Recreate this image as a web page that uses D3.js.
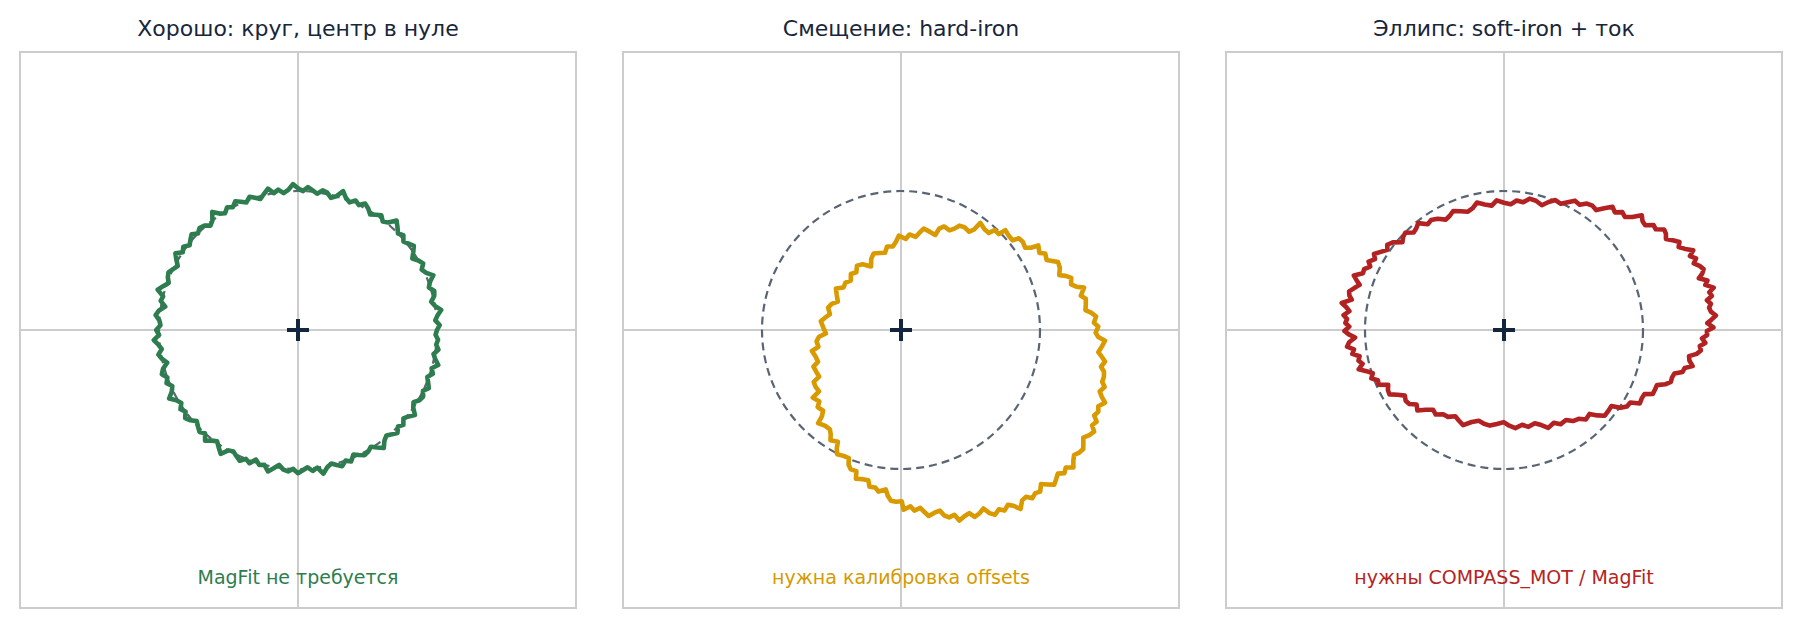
<!DOCTYPE html>
<html>

<head>
  <meta charset="UTF-8">
  <title>Калибровка компаса</title>
  <script src="https://d3js.org/d3.v7.min.js"></script>
  <style>
    body {
      margin: 0;
      background: #fff;
      font-family: "DejaVu Sans", sans-serif;
    }

    .frame {
      fill: none;
      stroke: #cccccc;
      stroke-width: 2px;
    }

    .zero {
      stroke: #cccccc;
      stroke-width: 2px;
    }

    .ref {
      fill: none;
      stroke: #596575;
      stroke-width: 2.2px;
      stroke-dasharray: 8 5;
    }

    .trace {
      fill: none;
      stroke-width: 4.6px;
      stroke-linejoin: round;
      stroke-linecap: round;
    }

    .origin {
      stroke: #14263d;
      stroke-width: 4px;
    }
  </style>
</head>

<body>
  <svg id="chart" width="1802" height="628"></svg>

  <script>
    // panel titles and notes
    const titles = ["Хорошо: круг, центр в нуле", "Смещение: hard-iron", "Эллипс: soft-iron + ток"];
    const notes = ["MagFit не требуется", "нужна калибровка offsets", "нужны COMPASS_MOT / MagFit"];
    const colors = ["#2e7d4f", "#d99a00", "#b22222"];
    const noteColors = ["#2e7d4f", "#d69a00", "#b5241f"];

    // fitted shape of each trace: centre, semi-axes, rotation (deg)
    const centers = [[0, 0], [0.42, -0.30], [0.18, 0.12]];
    const semiAxes = [[1.0, 1.0], [1.03, 1.03], [1.31, 0.80]];
    const rotations = [0, 0, 3];

    // normalised radius of each sample, read round the trace every 2 degrees
    const goodR = [
      1.00, 1.02, 0.99, 1.01, 1.04, 1.00, 0.98, 1.01, 1.02, 0.99,
      1.01, 1.05, 1.01, 0.99, 1.02, 1.00, 0.97, 1.00, 1.03, 1.01,
      0.99, 1.02, 1.00, 1.03, 1.06, 1.01, 0.99, 1.02, 1.00, 0.98,
      1.01, 1.03, 1.00, 1.02, 0.99, 1.01, 1.05, 1.00, 0.98, 1.01,
      1.02, 0.99, 1.01, 1.03, 1.00, 1.02, 1.05, 1.01, 0.99, 1.02,
      1.00, 1.04, 1.01, 0.98, 1.00, 1.02, 0.99, 1.01, 1.03, 1.00,
      1.02, 0.99, 1.01, 1.05, 1.00, 0.98, 1.01, 1.02, 1.00, 1.03,
      1.01, 0.99, 1.02, 1.00, 1.04, 1.01, 0.98, 1.00, 1.02, 1.01,
      0.99, 1.02, 1.05, 1.00, 1.01, 0.97, 1.01, 1.03, 1.00, 0.99,
      1.02, 1.00, 1.04, 1.01, 0.99, 1.02, 1.00, 0.97, 1.01, 1.03,
      1.00, 1.02, 0.99, 1.01, 1.05, 1.01, 0.99, 1.02, 1.00, 1.03,
      1.01, 0.98, 1.00, 1.02, 1.00, 1.04, 1.01, 0.99, 1.02, 1.05,
      1.00, 0.99, 1.01, 1.03, 1.00, 1.02, 0.98, 1.01, 1.00, 1.04,
      1.01, 0.98, 1.01, 1.02, 1.00, 1.03, 1.01, 0.99, 1.02, 1.00,
      1.05, 1.01, 0.99, 1.01, 1.03, 1.00, 1.02, 0.98, 1.00, 1.02,
      1.01, 0.99, 1.02, 1.05, 1.01, 0.99, 1.01, 1.03, 1.00, 1.02,
      0.99, 1.01, 1.04, 1.00, 0.98, 1.01, 1.02, 1.00, 1.03, 1.01,
      0.99, 1.02, 1.00, 1.04, 1.01, 0.99, 1.02, 1.00, 1.01, 0.99
    ];

    const offsetR = [
      1.01, 0.99, 1.02, 1.00, 0.98, 1.01, 1.04, 1.00, 0.99, 1.02,
      1.00, 1.03, 1.01, 0.98, 1.00, 1.02, 1.00, 1.05, 1.01, 0.99,
      1.02, 1.00, 0.97, 1.01, 1.03, 1.01, 0.99, 1.02, 1.00, 1.04,
      1.00, 0.98, 1.01, 1.02, 0.99, 1.01, 1.04, 1.00, 1.02, 0.99,
      1.01, 1.05, 1.00, 0.98, 1.01, 1.02, 1.00, 0.99, 1.02, 1.01,
      0.97, 1.00, 1.03, 1.01, 0.99, 1.02, 1.00, 1.04, 1.01, 0.99,
      1.01, 0.98, 1.00, 1.02, 1.00, 0.96, 1.01, 1.03, 1.00, 1.02,
      0.99, 1.01, 1.00, 1.04, 1.01, 0.98, 1.01, 1.02, 0.99, 1.01,
      1.03, 1.00, 0.97, 1.01, 1.02, 1.00, 1.04, 1.01, 0.99, 1.02,
      1.00, 0.98, 1.02, 1.01, 0.99, 1.04, 1.00, 1.02, 0.99, 1.01,
      1.05, 1.01, 0.99, 1.00, 1.02, 0.98, 1.01, 1.03, 1.00, 0.98,
      1.01, 1.02, 1.00, 1.04, 1.01, 0.99, 1.02, 1.00, 1.01, 0.97,
      1.00, 1.02, 1.01, 0.99, 1.04, 1.00, 1.02, 0.99, 1.01, 1.03,
      1.00, 0.98, 1.01, 1.02, 1.00, 1.04, 1.01, 0.99, 1.02, 1.00,
      0.97, 1.01, 1.03, 1.00, 1.02, 0.99, 1.01, 1.05, 1.00, 0.99,
      1.02, 1.00, 1.01, 0.97, 1.00, 1.03, 1.01, 0.99, 1.02, 1.00,
      1.04, 1.01, 0.99, 1.01, 1.02, 1.00, 0.98, 1.01, 1.03, 1.00,
      1.02, 0.99, 1.01, 1.00, 1.04, 1.01, 0.99, 1.02, 1.00, 1.01
    ];

    const ellipseR = [
      1.00, 0.98, 1.01, 1.00, 1.03, 0.99, 1.01, 0.97, 1.00, 1.02,
      1.01, 0.99, 1.02, 1.00, 1.04, 1.01, 0.99, 1.02, 1.00, 0.98,
      1.01, 1.03, 1.00, 1.02, 0.99, 1.01, 1.05, 1.01, 0.99, 1.02,
      1.00, 1.04, 1.01, 0.98, 1.01, 1.02, 1.00, 1.03, 1.01, 0.99,
      1.02, 1.00, 0.97, 1.01, 1.03, 1.00, 1.02, 0.99, 1.01, 1.04,
      1.00, 1.02, 1.05, 1.01, 0.99, 1.01, 1.03, 1.00, 0.98, 1.01,
      1.02, 1.00, 1.04, 1.01, 0.99, 1.02, 1.00, 0.97, 1.01, 1.02,
      0.99, 1.01, 1.03, 1.00, 1.02, 0.99, 1.01, 1.00, 1.04, 1.01,
      0.98, 1.00, 1.02, 1.01, 0.99, 1.04, 1.01, 0.99, 1.02, 1.00,
      1.01, 0.99, 1.02, 1.00, 0.97, 1.01, 1.03, 1.00, 1.02, 0.99,
      1.01, 1.00, 1.04, 1.01, 0.99, 1.02, 1.00, 1.02, 0.98, 1.01,
      1.03, 1.00, 0.98, 1.01, 1.02, 1.00, 1.04, 1.01, 0.99, 1.02,
      1.00, 1.01, 0.99, 1.02, 1.05, 1.01, 0.99, 1.01, 1.02, 1.00,
      0.98, 1.01, 1.03, 1.00, 1.02, 0.99, 1.01, 1.04, 1.00, 1.02,
      0.99, 1.01, 1.00, 1.02, 0.98, 1.01, 1.03, 1.00, 0.97, 1.01,
      1.02, 1.00, 1.04, 1.01, 0.99, 1.02, 1.00, 0.98, 1.01, 1.02,
      1.00, 0.99, 1.02, 1.01, 1.04, 1.00, 0.98, 1.01, 1.02, 1.00,
      1.02, 0.99, 1.01, 1.00, 1.03, 0.99, 1.01, 1.03, 1.00, 0.99
    ];
    const traces = [goodR, offsetR, ellipseR];

    // axis limits and the reference (unit) circle
    const limits = [-2, 2];
    const refRadius = 1;

    const size = 556, panelLeft = 20, panelTop = 52, step = 603;
    const svg = d3.select("#chart");

    const x = d3.scaleLinear().domain(limits).range([0, size]);
    const y = d3.scaleLinear().domain(limits).range([size, 0]);

    // turn the radius samples into x/y points on the fitted shape
    function toPoints(radii, c, ax, rotDeg) {
      const rot = rotDeg * Math.PI / 180;
      return radii.map((r, i) => {
        const t = i * 2 * Math.PI / radii.length;
        const ex = ax[0] * r * Math.cos(t), ey = ax[1] * r * Math.sin(t);
        return [c[0] + ex * Math.cos(rot) - ey * Math.sin(rot),
                c[1] + ex * Math.sin(rot) + ey * Math.cos(rot)];
      });
    }

    const line = d3.line()
      .x(d => x(d[0]))
      .y(d => y(d[1]))
      .curve(d3.curveLinearClosed);

    titles.forEach((title, k) => {
      const g = svg.append("g")
        .attr("transform", `translate(${panelLeft + k * step}, ${panelTop})`);

      // zero lines
      g.append("line").attr("class", "zero")
        .attr("x1", 0).attr("x2", size).attr("y1", y(0)).attr("y2", y(0));
      g.append("line").attr("class", "zero")
        .attr("x1", x(0)).attr("x2", x(0)).attr("y1", 0).attr("y2", size);

      // reference circle
      g.append("circle").attr("class", "ref")
        .attr("cx", x(0)).attr("cy", y(0))
        .attr("r", x(refRadius) - x(0));

      // measured trace
      g.append("path").attr("class", "trace")
        .attr("stroke", colors[k])
        .attr("d", line(toPoints(traces[k], centers[k], semiAxes[k], rotations[k])));

      // origin marker
      g.append("path").attr("class", "origin")
        .attr("transform", `translate(${x(0)}, ${y(0)})`)
        .attr("d", "M-11,0H11M0,-11V11");

      g.append("rect").attr("class", "frame")
        .attr("width", size).attr("height", size);

      g.append("text")
        .attr("x", size / 2).attr("y", -16)
        .attr("text-anchor", "middle")
        .attr("fill", "#17263b")
        .style("font-size", "22px")
        .text(title);

      g.append("text")
        .attr("x", size / 2).attr("y", size - 24)
        .attr("text-anchor", "middle")
        .attr("fill", noteColors[k])
        .style("font-size", "19px")
        .text(notes[k]);
    });
  </script>
</body>

</html>
